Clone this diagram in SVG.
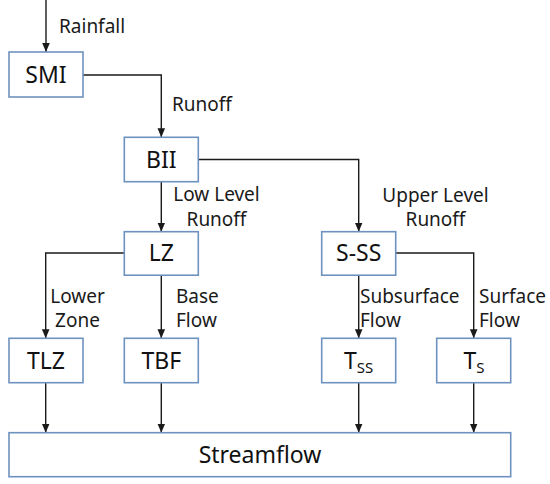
<svg xmlns="http://www.w3.org/2000/svg" width="550" height="484" viewBox="0 0 550 484">
<defs>
<marker id="arr" markerUnits="userSpaceOnUse" markerWidth="10" markerHeight="10" viewBox="0 0 10 10" refX="9" refY="5" orient="auto">
<path d="M0,1.2 L9,5 L0,8.8 Z" fill="#1a1a1a"/>
</marker>
<style>
.box{fill:#ffffff;stroke:#6e92bf;stroke-width:1.6}
.lbl{font-family:"Noto Sans","Open Sans","DejaVu Sans",sans-serif;font-size:23px;fill:#111;text-anchor:middle}
.t{font-family:"Noto Sans","Open Sans","DejaVu Sans",sans-serif;font-size:19px;fill:#1a1a1a}
.c{text-anchor:middle}
.con{fill:none;stroke:#1a1a1a;stroke-width:1.4;marker-end:url(#arr)}
</style>
</defs>
<rect width="550" height="484" fill="#ffffff"/>
<g id="connectors">
<path class="con" d="M46,0 V52"/>
<path class="con" d="M83,75 H161.3 V137.3"/>
<path class="con" d="M161.3,181.7 V231.7"/>
<path class="con" d="M198.3,159.5 H358.7 V231.7"/>
<path class="con" d="M124.3,253 H45.7 V338.3"/>
<path class="con" d="M161.3,275.2 V338.3"/>
<path class="con" d="M358.7,275.2 V338.3"/>
<path class="con" d="M395.7,253 H473.7 V338.3"/>
<path class="con" d="M45.7,382.7 V432.7"/>
<path class="con" d="M161.3,382.7 V432.7"/>
<path class="con" d="M358.7,382.7 V432.7"/>
<path class="con" d="M473.7,382.7 V432.7"/>
</g>
<g id="labels">
<text class="t" x="59" y="33">Rainfall</text>
<text class="t" x="172" y="111">Runoff</text>
<text class="t c" x="216.5" y="201">Low Level</text>
<text class="t c" x="216.5" y="225.5">Runoff</text>
<text class="t c" x="435.5" y="202">Upper Level</text>
<text class="t c" x="435.5" y="225.5">Runoff</text>
<text class="t c" x="77.5" y="303">Lower</text>
<text class="t c" x="77.5" y="326.7">Zone</text>
<text class="t" x="176" y="303">Base</text>
<text class="t" x="176" y="326.7">Flow</text>
<text class="t" x="360" y="303">Subsurface</text>
<text class="t" x="360" y="326.7">Flow</text>
<text class="t" x="479" y="303">Surface</text>
<text class="t" x="479" y="326.7">Flow</text>
</g>
<g id="SMI"><rect class="box" x="9" y="52" width="74" height="45"/><text class="lbl" x="46" y="83">SMI</text></g>
<g id="BII"><rect class="box" x="124.3" y="137.3" width="74" height="44.4"/><text class="lbl" x="161.3" y="167.5">BII</text></g>
<g id="LZ"><rect class="box" x="124.3" y="231.7" width="74" height="43.5"/><text class="lbl" x="161.3" y="261.4">LZ</text></g>
<g id="S-SS"><rect class="box" x="321.7" y="231.7" width="74" height="43.5"/><text class="lbl" x="358.7" y="261.4">S-SS</text></g>
<g id="TLZ"><rect class="box" x="9" y="338.3" width="74" height="44.4"/><text class="lbl" x="46" y="369">TLZ</text></g>
<g id="TBF"><rect class="box" x="124.3" y="338.3" width="74" height="44.4"/><text class="lbl" x="161.3" y="369">TBF</text></g>
<g id="TSS"><rect class="box" x="321.7" y="338.3" width="74" height="44.4"/><text class="lbl" x="358.7" y="369">T<tspan font-size="15" dy="4">SS</tspan></text></g>
<g id="TS"><rect class="box" x="436.7" y="338.3" width="74" height="44.4"/><text class="lbl" x="474" y="369">T<tspan font-size="15" dy="4">S</tspan></text></g>
<g id="Streamflow"><rect class="box" x="9" y="432.7" width="501.7" height="44"/><text class="lbl" x="260" y="463">Streamflow</text></g>
</svg>
